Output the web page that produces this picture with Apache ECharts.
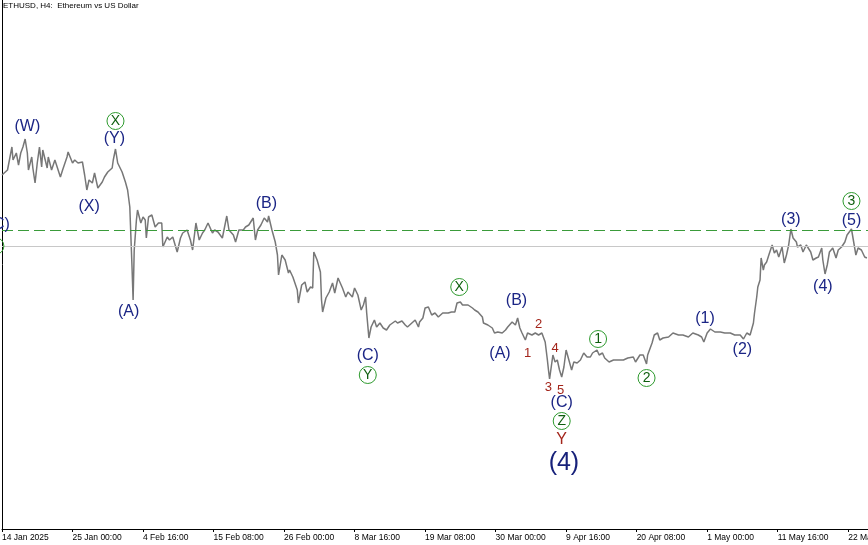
<!DOCTYPE html>
<html><head><meta charset="utf-8">
<script src="https://cdn.jsdelivr.net/npm/echarts@6/dist/echarts.min.js"></script>
<style>html,body{margin:0;padding:0;background:#fff}#c{width:868px;height:545px}</style>
</head><body><div id="c"></div>
<script>
// H4 bar index counted from 14 Jan 2025 08:00
const barIndex = [0,3,5,9,10,13,15,17,19,21,23,24,27,28,30,32,34,36,37,41,42,45,48,53,55,59,60,64,66,69,73,75,77,79,82,84,87,91,93,96,100,101,103,105,109,112,114,116,118,119,120,122,123,126,128,130,131,133,
136,139,142,145,146,150,152,155,159,162,164,168,171,173,176,179,182,184,187,191,193,196,200,202,204,206,210,212,215,219,221,224,228,230,232,235,238,241,242,245,248,
250,251,254,257,260,261,264,268,269,272,275,277,280,282,283,286,289,290,291,294,297,300,302,305,307,309,312,314,318,320,323,326,328,330,331,333,335,338,340,343,346,349,352,357,359,363,366,368,372,375,378,
379,382,384,387,390,393,396,400,405,408,411,413,416,418,423,427,429,432,436,437,441,445,447,450,454,457,459,463,466,468,470,472,475,477,481,484,487,490,493,495,496,497,500,502,504,506,508,510,512,514,517,519,522,
525,528,531,534,536,540,542,545,547,551,555,559,564,568,573,575,579,582,585,586,590,592,595,597,600,605,609,614,618,623,627,632,635,637,640,643,647,652,656,661,665,670,673,676,679,682,683,685,686,688,689,691,692,694,696,699,701,703,705,708,710,712,714,716,718,721,722,725,727,730,731,734,736,739,741,744,745,747,749,751,754,757,759,762,765,767,769,771,773,775,777,780,783,785];
const closePrice = [3195,3222,3240,3447,3330,3393,3285,3393,3447,3519,3393,3240,3357,3258,3123,3303,3447,3267,3420,3258,3357,3240,3330,3177,3240,3357,3402,3303,3330,3303,3312,3195,3060,3150,3123,3213,3078,3132,3177,3222,3258,3330,3429,3303,3222,3132,3060,2907,2367,2070,2520,2790,2880,2763,2817,2790,2628,2817,
2835,2727,2763,2763,2547,2637,2610,2637,2502,2628,2673,2700,2610,2520,2763,2610,2673,2700,2763,2673,2700,2682,2628,2727,2826,2700,2655,2592,2700,2700,2727,2745,2808,2610,2700,2745,2808,2772,2826,2700,2592,
2475,2295,2475,2430,2313,2340,2277,2160,2043,2205,2232,2142,2187,2178,2502,2430,2322,2070,1962,2088,2142,2223,2133,2268,2223,2178,2097,2142,2097,2178,2115,1980,2025,2097,1953,1728,1827,1890,1827,1863,1818,1800,1845,1881,1863,1881,1845,1827,1863,1890,1827,
1872,1908,1998,2007,1935,1953,1917,1953,1953,1962,1962,2043,2052,2025,2025,1998,1980,1962,1917,1863,1845,1818,1773,1782,1773,1800,1827,1872,1845,1908,1818,1773,1710,1773,1755,1773,1755,1773,1692,1530,1440,1359,1575,1512,1530,1440,1377,1467,1620,1548,1440,1512,1503,
1530,1593,1557,1557,1593,1620,1575,1593,1548,1512,1530,1530,1530,1548,1557,1512,1575,1575,1494,1575,1683,1755,1773,1710,1728,1737,1773,1755,1755,1737,1773,1755,1737,1692,1773,1809,1782,1782,1773,1773,1755,1755,1719,1773,1755,1863,1953,2097,2187,2250,2448,2340,2385,2412,2475,2565,2493,2520,2457,2547,2403,2475,2565,2709,2628,2592,2547,2565,2502,2565,2583,2502,2430,2448,2457,2538,2430,2304,2385,2502,2538,2448,2520,2547,2592,2655,2682,2709,2592,2475,2538,2520,2457,2448];

const tickLabels = ['14 Jan 2025','25 Jan 00:00','4 Feb 16:00','15 Feb 08:00','26 Feb 00:00','8 Mar 16:00','19 Mar 08:00','30 Mar 00:00','9 Apr 16:00','20 Apr 08:00','1 May 00:00','11 May 16:00','22 May 08:00'];
const levelGreen = 2700;
const levelGray = 2556;

// [bar, price, text]
const navyLabels = [[23,3627,'(W)'],[102,3519,'(Y)'],[79,2907,'(X)'],[115,1962,'(A)'],[240,2934,'(B)'],[-3,2745,'(C)'],
  [332,1566,'(C)'],[452,1584,'(A)'],[467,2061,'(B)'],[508,1143,'(C)'],[638,1899,'(1)'],[672,1620,'(2)'],[716,2790,'(3)'],[745,2187,'(4)'],[771,2781,'(5)']];
const redLabels = [[477,1593,'1'],[487,1854,'2'],[496,1287,'3'],[502,1638,'4'],[507,1260,'5']];
const redBigLabels = [[508,810,'Y']];
const circleLabels = [[103,3681,'X'],[-6,2556,'Y'],[332,1395,'Y'],[415,2187,'X'],[508,981,'Z'],[541,1719,'1'],[585,1368,'2'],[771,2961,'3']];
const degreeLabels = [[510,600,'(4)']];

const FONT = 'Liberation Sans, Arial, sans-serif';
const priceData = barIndex.map((b, i) => [b, closePrice[i]]);

function textSeries(data, color, size) {
  return {
    type: 'scatter', data: data, symbol: 'circle', symbolSize: 1, clip: false, silent: true, z: 5,
    encode: {x: 0, y: 1},
    itemStyle: {color: 'rgba(0,0,0,0)', opacity: 1},
    label: {show: true, position: 'inside', formatter: p => p.value[2], color: color, fontSize: size, fontFamily: FONT}
  };
}

const chart = echarts.init(document.getElementById('c'), null, {renderer: 'canvas'});
chart.setOption({
  animation: false,
  backgroundColor: '#ffffff',
  title: {text: 'ETHUSD, H4:  Ethereum vs US Dollar', left: 3, top: 2, padding: 0,
    textStyle: {fontSize: 8, fontWeight: 'normal', color: '#000', fontFamily: FONT}},
  grid: {left: 2, right: 0, top: 0, bottom: 16, containLabel: false, outerBoundsMode: 'none'},
  xAxis: {
    type: 'value', min: 0, max: 786, interval: 64,
    axisLine: {show: true, lineStyle: {color: '#000', width: 1}},
    axisTick: {show: true, length: 3, lineStyle: {color: '#000'}},
    splitLine: {show: false},
    axisLabel: {show: true, align: 'left', margin: 4, fontSize: 8.5, color: '#000', fontFamily: FONT,
      showMinLabel: true, showMaxLabel: false, hideOverlap: false,
      formatter: v => (v % 64 === 0 && tickLabels[v / 64]) ? tickLabels[v / 64] : ''}
  },
  yAxis: {
    type: 'value', min: 9, max: 4770,
    axisLine: {show: true, lineStyle: {color: '#000', width: 1}},
    axisTick: {show: false}, axisLabel: {show: false}, splitLine: {show: false}
  },
  series: [
    {
      type: 'line', data: priceData, showSymbol: false, symbol: 'none', silent: true, z: 3,
      lineStyle: {color: '#777777', width: 1.5},
      markLine: {
        silent: true, symbol: 'none', label: {show: false},
        data: [
          {yAxis: levelGreen, lineStyle: {color: '#3a9b3a', width: 1, type: [11, 5]}},
          {yAxis: levelGray, lineStyle: {color: '#c8c8c8', width: 1, type: 'solid'}}
        ]
      }
    },
    textSeries(navyLabels, '#1b2585', 16),
    textSeries(redLabels, '#a3251b', 13),
    textSeries(redBigLabels, '#a3251b', 16),
    textSeries(degreeLabels, '#17217a', 25),
    {
      type: 'scatter', data: circleLabels, symbol: 'circle', symbolSize: 17, clip: false, silent: true, z: 5,
      encode: {x: 0, y: 1},
      itemStyle: {color: 'rgba(255,255,255,0)', borderColor: '#2f9b2f', borderWidth: 1, opacity: 1},
      label: {show: true, position: 'inside', formatter: p => p.value[2], color: '#0e5e0e', fontSize: 14, fontFamily: FONT}
    }
  ]
});
</script></body></html>
